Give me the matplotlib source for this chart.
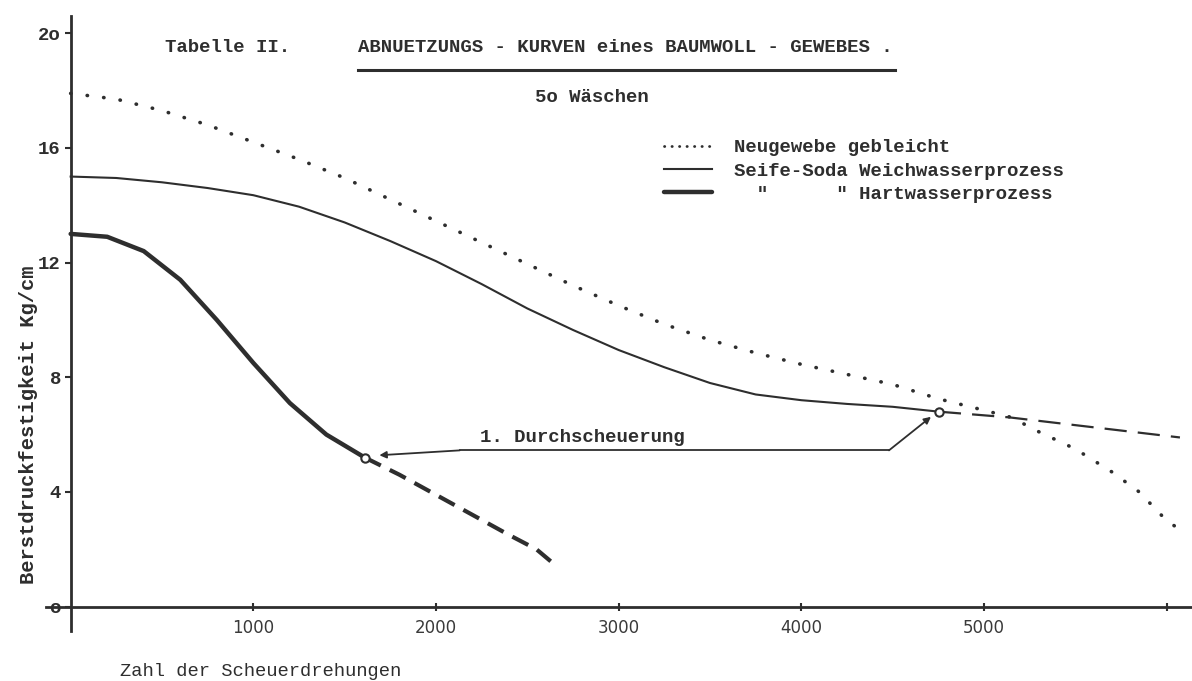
import matplotlib
matplotlib.use("Agg")
import matplotlib.pyplot as plt
from matplotlib.lines import Line2D

# Neugewebe gebleicht (dotted)
neu_x = [0, 250, 500, 750, 1000, 1250, 1500, 1750, 2000, 2250, 2500, 2750, 3000, 3250,
         3500, 3750, 4000, 4250, 4500, 4750, 5000, 5150, 5300, 5500, 5700, 5850, 6000, 6070]
neu_y = [17.9, 17.7, 17.3, 16.8, 16.2, 15.6, 14.95, 14.2, 13.45, 12.7, 11.95, 11.2, 10.5, 9.85,
         9.3, 8.85, 8.45, 8.1, 7.75, 7.25, 6.85, 6.6, 6.1, 5.5, 4.7, 4.0, 3.0, 2.7]

# Seife-Soda Weichwasserprozess (thin), solid up to first wear-through, then dashed
weich_x = [0, 250, 500, 750, 1000, 1250, 1500, 1750, 2000, 2250, 2500, 2750, 3000, 3250,
           3500, 3750, 4000, 4250, 4500, 4753]
weich_y = [15.0, 14.95, 14.8, 14.6, 14.35, 13.95, 13.4, 12.75, 12.05, 11.25, 10.4, 9.65, 8.95, 8.35,
           7.8, 7.4, 7.2, 7.07, 6.97, 6.8]
weich_ext_x = [4753, 5140, 6073]
weich_ext_y = [6.8, 6.6, 5.9]

# Hartwasserprozess (thick)
hart_x = [0, 200, 400, 600, 800, 1000, 1200, 1400, 1610]
hart_y = [13.0, 12.9, 12.4, 11.4, 10.0, 8.5, 7.1, 6.0, 5.2]
hart_ext_x = [1610, 1800, 2000, 2200, 2400, 2550, 2662]
hart_ext_y = [5.2, 4.6, 3.9, 3.2, 2.5, 2.0, 1.4]

xticks = [1000, 2000, 3000, 4000, 5000, 6000]
xtick_labels = ["1000", "2000", "3000", "4000", "5000", ""]
yticks = [0, 4, 8, 12, 16, 20]
ytick_labels = ["o", "4", "8", "12", "16", "2o"]

labels = ["Neugewebe gebleicht", "Seife-Soda Weichwasserprozess", '  "      " Hartwasserprozess']

ink = "#2e2e2e"
W, H = 1192, 681


def fx(px):
    return px / W


def fy(py):
    return 1 - py / H


mono = dict(family="Liberation Mono", weight="bold", size=13.7, color=ink)

fig = plt.figure(figsize=(11.92, 6.81), dpi=100)
ax = fig.add_axes([fx(46), fy(631), fx(1192) - fx(46), fy(16) - fy(631)])
ax.set_xlim(-135, 6139)
ax.set_ylim(-0.85, 20.6)

for s in ["top", "right"]:
    ax.spines[s].set_visible(False)
for s in ["left", "bottom"]:
    ax.spines[s].set_position(("data", 0))
    ax.spines[s].set_linewidth(2.0)
    ax.spines[s].set_color(ink)
ax.spines["left"].set_bounds(-0.85, 20.6)
ax.spines["bottom"].set_bounds(-135, 6139)

ax.set_xticks(xticks)
ax.set_xticklabels(xtick_labels, family="DejaVu Sans", size=12, color="#3a3a3a")
ax.set_yticks(yticks)
ax.set_yticklabels(ytick_labels, **mono)
ax.tick_params(axis="x", direction="inout", length=6, width=1.5, color=ink, pad=6)
ax.tick_params(axis="y", direction="out", length=4, width=1.5, color=ink, pad=3)

ax.plot(neu_x, neu_y, color=ink, lw=2.6, linestyle=(0, (0.1, 4.5)), dash_capstyle="round")
l_weich, = ax.plot(weich_x, weich_y, color=ink, lw=1.5)
ax.plot(weich_ext_x, weich_ext_y, color=ink, lw=1.6, linestyle=(0, (10, 5)))
l_hart, = ax.plot(hart_x, hart_y, color=ink, lw=3.2, solid_capstyle="round")
ax.plot(hart_ext_x, hart_ext_y, color=ink, lw=3.0, linestyle=(0, (4.3, 2.4)))

# first wear-through points
ax.plot([hart_x[-1], weich_x[-1]], [hart_y[-1], weich_y[-1]], "o", ms=6,
        mfc="white", mec=ink, mew=1.5, zorder=5)

# annotation line with arrows to both points
ax.plot([2130, 4480], [5.45, 5.45], color=ink, lw=1.3)
ax.annotate("", xy=(1690, 5.28), xytext=(2130, 5.45),
            arrowprops=dict(arrowstyle="-|>", color=ink, lw=1.3, mutation_scale=10,
                            shrinkA=0, shrinkB=0))
ax.annotate("", xy=(4710, 6.62), xytext=(4480, 5.45),
            arrowprops=dict(arrowstyle="-|>", color=ink, lw=1.3, mutation_scale=10,
                            shrinkA=0, shrinkB=0))
ax.text(2240, 5.6, "1. Durchscheuerung", ha="left", va="bottom", **mono)

# titles
fig.text(fx(165), fy(47), "Tabelle II.", ha="left", va="center", **mono)
fig.text(fx(358), fy(47), "ABNUETZUNGS - KURVEN eines BAUMWOLL - GEWEBES .",
         ha="left", va="center", **mono)
fig.add_artist(Line2D([fx(358), fx(895)], [fy(70), fy(70)], color=ink, lw=2.2))
fig.text(fx(535), fy(97), "5o Wäschen", ha="left", va="center", **mono)

fig.text(fx(29), fy(425), "Berstdruckfestigkeit Kg/cm", rotation=90,
         ha="center", va="center", family="Liberation Mono", weight="bold",
         size=14.8, color=ink)
fig.text(fx(120), fy(671), "Zahl der Scheuerdrehungen", ha="left", va="center",
         family="Liberation Mono", size=13.5, color=ink)

# legend handle for the dotted line uses finer dots, like the typed sample
h_neu = Line2D([], [], color=ink, lw=2.0, linestyle=(0, (0.1, 2.6)), dash_capstyle="round")
ax.legend([h_neu, l_weich, l_hart], labels, loc="upper left",
          bbox_to_anchor=(fx(664), fy(139)), bbox_transform=fig.transFigure,
          frameon=False, handlelength=2.5, handletextpad=1.2, labelspacing=0.32,
          borderaxespad=0, borderpad=0,
          prop=dict(family="Liberation Mono", weight="bold", size=13.7),
          labelcolor=ink)

fig.savefig("out.png", dpi=100, facecolor="white")
